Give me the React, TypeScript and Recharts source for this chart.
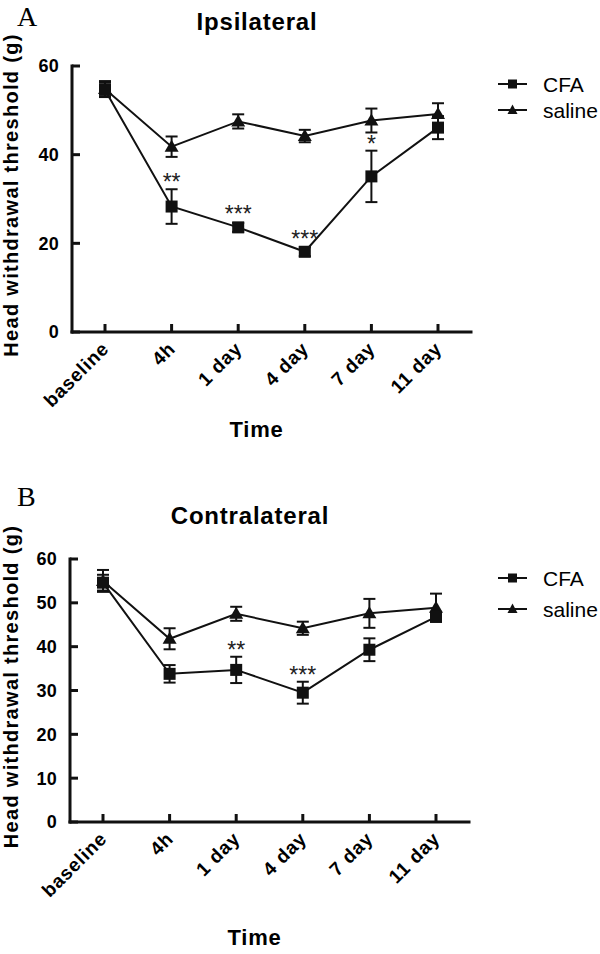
import React from 'react';
import { LineChart, Line, XAxis, YAxis, ErrorBar, Legend, LabelList } from 'recharts';

// time points on the x axis
const times = ['baseline', '4h', '1 day', '4 day', '7 day', '11 day'];

// panel A - ipsilateral
const cfaIpsi = [54.6, 28.3, 23.6, 18.1, 35.1, 46.1];
const cfaIpsiErr = [1.6, 3.9, 1.0, 1.0, 5.8, 2.6];
const salineIpsi = [54.8, 41.8, 47.5, 44.2, 47.7, 49.2];
const salineIpsiErr = [1.8, 2.3, 1.6, 1.4, 2.7, 2.4];
const starsIpsi = ['', '**', '***', '***', '*', ''];
const ticksIpsi = [0, 20, 40, 60];

// panel B - contralateral
const cfaContra = [54.6, 33.8, 34.7, 29.5, 39.3, 46.8];
const cfaContraErr = [1.8, 2.0, 3.0, 2.5, 2.6, 1.0];
const salineContra = [55.0, 41.8, 47.5, 44.2, 47.6, 48.9];
const salineContraErr = [2.5, 2.4, 1.6, 1.5, 3.3, 3.2];
const starsContra = ['', '', '**', '***', '', ''];
const ticksContra = [0, 10, 20, 30, 40, 50, 60];

const FONT = '"Liberation Sans", Arial, Helvetica, sans-serif';
const SERIF = '"Liberation Serif", "Times New Roman", serif';
const INK = '#111';

function buildRows(cfa: number[], cfaErr: number[], saline: number[], salineErr: number[], stars: string[]) {
  return times.map((time, i) => ({
    time,
    cfa: cfa[i],
    cfaErr: cfaErr[i],
    saline: saline[i],
    salineErr: salineErr[i],
    stars: stars[i],
    // stars sit just above the top of the CFA error bar / marker
    starAt: stars[i] ? cfa[i] + Math.max(cfaErr[i], 1.4) : null,
  }));
}

const squareDot = (p: any) => {
  const { cx, cy, index } = p;
  if (cx == null || cy == null) return <g key={index} />;
  return <rect key={index} x={cx - 6} y={cy - 6} width={12} height={12} fill={INK} />;
};

const triangleDot = (p: any) => {
  const { cx, cy, index } = p;
  if (cx == null || cy == null) return <g key={index} />;
  return <polygon key={index} points={`${cx},${cy - 7} ${cx + 7},${cy + 5} ${cx - 7},${cy + 5}`} fill={INK} />;
};

const XTick = (p: any) => {
  const { x, y, payload } = p;
  const ax = x + 5;
  const ay = y + 18;
  return (
    <g>
      <line x1={x} y1={y} x2={x} y2={y - 8} stroke={INK} strokeWidth={3} />
      <text
        x={ax}
        y={ay}
        transform={`rotate(-45 ${ax} ${ay})`}
        textAnchor="end"
        fontFamily={FONT}
        fontWeight="bold"
        fontSize={19}
        letterSpacing={0.8}
        fill="#000"
      >
        {payload.value}
      </text>
    </g>
  );
};

const YTick = (p: any) => {
  const { x, y, payload } = p;
  return (
    <g>
      <line x1={x} y1={y} x2={x + 8} y2={y} stroke={INK} strokeWidth={3} />
      <text x={x - 13} y={y} dy="0.36em" textAnchor="end" fontFamily={FONT} fontWeight="bold" fontSize={18} letterSpacing={0.3} fill="#000">
        {payload.value}
      </text>
    </g>
  );
};

const StarLabel = (p: any) => {
  const { x, y, value } = p;
  if (!value || x == null || y == null) return null;
  return (
    <text x={x} y={y + 1} textAnchor="middle" fontFamily={FONT} fontSize={23} fill="#222">
      {value}
    </text>
  );
};

const makeYTitle = (text: string) => (p: any) => {
  const vb = p.viewBox || { y: 66, height: 266 };
  const cx = 10.5;
  const cy = vb.y + vb.height / 2 - 4;
  return (
    <text
      x={cx}
      y={cy}
      transform={`rotate(-90 ${cx} ${cy})`}
      textAnchor="middle"
      dominantBaseline="central"
      fontFamily={FONT}
      fontWeight="bold"
      fontSize={20}
      letterSpacing={1.3}
      fill="#000"
    >
      {text}
    </text>
  );
};

const makeXTitle = (text: string, drop: number) => (p: any) => {
  const vb = p.viewBox || { x: 72, y: 332, width: 399 };
  return (
    <text
      x={vb.x + vb.width / 2 - 15}
      y={vb.y + drop}
      textAnchor="middle"
      fontFamily={FONT}
      fontWeight="bold"
      fontSize={22}
      letterSpacing={0.8}
      fill="#000"
    >
      {text}
    </text>
  );
};

const legendOrder = ['cfa', 'saline'];

const makeLegend = (gap: number) => (props: any) => {
  const items = (props.payload || [])
    .filter((e: any) => legendOrder.includes(e.dataKey))
    .sort((a: any, b: any) => legendOrder.indexOf(a.dataKey) - legendOrder.indexOf(b.dataKey));
  return (
    <svg width={110} height={gap + 30} style={{ display: 'block' }}>
      {items.map((e: any, i: number) => {
        const y = 14 + i * gap;
        return (
          <g key={e.dataKey}>
            <line x1={8} y1={y} x2={37} y2={y} stroke={INK} strokeWidth={2} />
            {e.dataKey === 'cfa' ? (
              <rect x={18} y={y - 4.5} width={9} height={9} fill={INK} />
            ) : (
              <polygon points={`22.5,${y - 5.5} 27.5,${y + 4} 17.5,${y + 4}`} fill={INK} />
            )}
            <text x={53} y={y + 7.5} fontFamily={FONT} fontSize={21} fill="#000">
              {e.value}
            </text>
          </g>
        );
      })}
    </svg>
  );
};

type PanelProps = {
  rows: ReturnType<typeof buildRows>;
  ticks: number[];
  width: number;
  height: number;
  margin: { top: number; right: number; bottom: number; left: number };
  legendTop: number;
  legendGap: number;
  timeDrop: number;
};

function Panel(props: PanelProps) {
  return (
    <LineChart width={props.width} height={props.height} data={props.rows} margin={props.margin}>
      <XAxis
        dataKey="time"
        padding={{ left: 33, right: 33 }}
        axisLine={{ stroke: INK, strokeWidth: 3, strokeLinecap: 'square' }}
        tickLine={false}
        tickSize={0}
        tickMargin={0}
        tick={<XTick />}
        height={100}
        interval={0}
        label={{ value: 'Time', content: makeXTitle('Time', props.timeDrop) }}
      />
      <YAxis
        domain={[0, 60]}
        ticks={props.ticks}
        axisLine={{ stroke: INK, strokeWidth: 3, strokeLinecap: 'square' }}
        tickLine={false}
        tickSize={0}
        tickMargin={0}
        tick={<YTick />}
        width={60}
        label={{ value: 'Head withdrawal threshold (g)', content: makeYTitle('Head withdrawal threshold (g)') }}
      />
      <Legend
        layout="vertical"
        align="center"
        verticalAlign="middle"
        wrapperStyle={{ left: 490, top: props.legendTop, width: 110 }}
        content={makeLegend(props.legendGap)}
      />
      <Line
        dataKey="saline"
        name="saline"
        stroke={INK}
        strokeWidth={2}
        dot={triangleDot}
        activeDot={false}
        isAnimationActive={false}
      >
        <ErrorBar dataKey="salineErr" width={6} strokeWidth={2} stroke={INK} direction="y" isAnimationActive={false} />
      </Line>
      <Line
        dataKey="cfa"
        name="CFA"
        stroke={INK}
        strokeWidth={2}
        dot={squareDot}
        activeDot={false}
        isAnimationActive={false}
      >
        <ErrorBar dataKey="cfaErr" width={6} strokeWidth={2} stroke={INK} direction="y" isAnimationActive={false} />
      </Line>
      <Line
        dataKey="starAt"
        stroke="none"
        dot={false}
        activeDot={false}
        legendType="none"
        connectNulls={false}
        isAnimationActive={false}
      >
        <LabelList dataKey="stars" content={StarLabel} />
      </Line>
    </LineChart>
  );
}

export default function App() {
  const rowsA = buildRows(cfaIpsi, cfaIpsiErr, salineIpsi, salineIpsiErr, starsIpsi);
  const rowsB = buildRows(cfaContra, cfaContraErr, salineContra, salineContraErr, starsContra);

  return (
    <div style={{ position: 'absolute', left: 0, top: 0, width: 600, height: 954, background: '#fff', overflow: 'hidden' }}>
      <div style={{ position: 'absolute', left: 0, top: 0 }}>
        <Panel
          rows={rowsA}
          ticks={ticksIpsi}
          width={600}
          height={470}
          margin={{ top: 66, right: 129, bottom: 38, left: 12 }}
          legendTop={70}
          legendGap={26}
          timeDrop={105}
        />
      </div>
      <div style={{ position: 'absolute', left: 0, top: 490 }}>
        <Panel
          rows={rowsB}
          ticks={ticksContra}
          width={600}
          height={464}
          margin={{ top: 69, right: 131, bottom: 32, left: 10 }}
          legendTop={74}
          legendGap={31}
          timeDrop={123}
        />
      </div>
      <svg width={600} height={954} style={{ position: 'absolute', left: 0, top: 0, pointerEvents: 'none' }}>
        <text x={17} y={26} fontFamily={SERIF} fontSize={28} fill="#000">A</text>
        <text x={17} y={506} fontFamily={SERIF} fontSize={28} fill="#000">B</text>
        <text x={257} y={30} textAnchor="middle" fontFamily={FONT} fontWeight="bold" fontSize={24} letterSpacing={0.8} fill="#000">
          Ipsilateral
        </text>
        <text x={250} y={524} textAnchor="middle" fontFamily={FONT} fontWeight="bold" fontSize={24} letterSpacing={0.8} fill="#000">
          Contralateral
        </text>
      </svg>
    </div>
  );
}
